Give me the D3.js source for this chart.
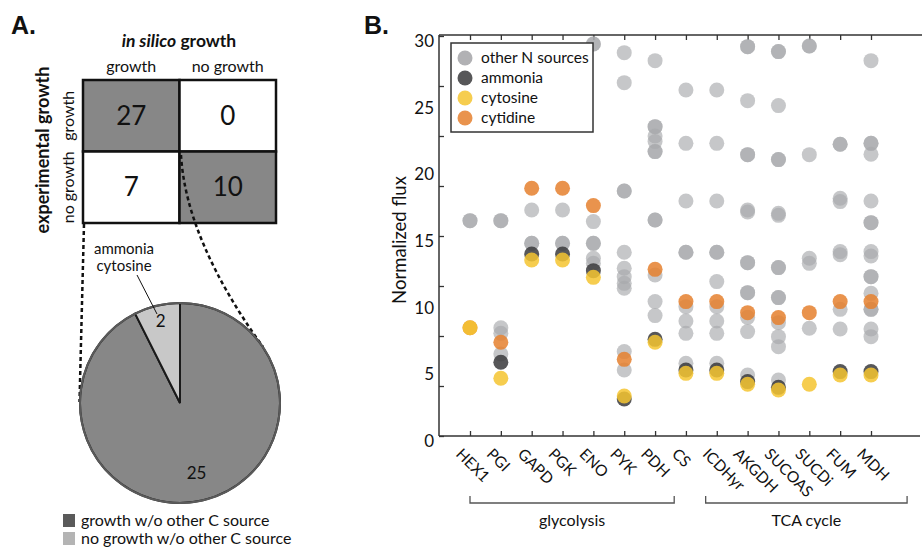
<!DOCTYPE html>
<html>
<head>
<meta charset="utf-8">
<script src="https://cdn.jsdelivr.net/npm/d3@7"></script>
<style>
body { margin: 0; background: #fff; }
text { font-family: Lato, "Open Sans", sans-serif; fill: #111; }
</style>
</head>
<body>
<div id="chart"></div>
<script>
// ---- panel A data
var matrixCols = ["growth", "no growth"];
var matrixRows = ["growth", "no growth"];
var matrixValues = [[27, 0], [7, 10]];
var pieLabels = ["growth w/o other C source", "no growth w/o other C source"];
var pieValues = [25, 2];
var calloutLabels = ["ammonia", "cytosine"];

// ---- panel B data
var reactions = ["HEX1", "PGI", "GAPD", "PGK", "ENO", "PYK", "PDH",
                 "CS", "ICDHyr", "AKGDH", "SUCOAS", "SUCDi", "FUM", "MDH"];
var otherN = [
  [16.15, 16.15],
  [16.15, 16.15, 8.12, 7.7, 6.15],
  [16.95, 14.45, 14.45],
  [16.95, 14.45, 14.45],
  [29.4, 29.4, 16.08, 14.45, 14.45, 13.33, 12.95],
  [28.75, 26.5, 18.38, 18.38, 13.78, 12.58, 11.95, 11.45, 11.08, 6.33, 4.95],
  [28.15, 23.2, 23.2, 22.5, 22.08, 21.33, 21.33, 16.2, 16.2, 12.08, 10.08, 9.03],
  [25.95, 21.95, 17.63, 13.78, 13.78, 9.7, 8.63, 7.7, 5.45],
  [25.95, 21.95, 17.63, 13.78, 13.78, 11.58, 9.7, 8.63, 7.7, 5.45],
  [29.2, 29.2, 25.15, 21.1, 21.1, 16.95, 16.8, 13.0, 13.0, 10.75, 10.75, 8.9, 7.83, 4.58],
  [28.83, 28.83, 24.78, 20.73, 20.73, 16.7, 16.55, 12.63, 12.63, 10.38, 10.38, 8.5, 7.45, 6.7, 4.2],
  [29.25, 29.25, 21.1, 13.33, 12.95, 8.08],
  [21.88, 21.88, 17.83, 17.58, 13.83, 13.6, 9.5, 8.03],
  [28.15, 21.95, 21.95, 21.13, 17.63, 16.0, 16.0, 13.83, 13.5, 11.95, 11.95, 10.7, 9.5, 9.5, 8.03, 7.45]
];
var ammonia  = [null, 5.53, 13.65, 13.65, 12.4, 2.78, 7.25, 4.95, 4.95, 4.08, 3.65, null, 4.83, 4.83];
var cytosine = [8.12, 4.33, 13.2, 13.2, 11.9, 3.0, 7.03, 4.7, 4.7, 3.88, 3.45, 3.88, 4.58, 4.58];
var cytidine = [8.12, 7.03, 18.58, 18.58, 17.28, 5.75, 12.5, 10.08, 10.08, 9.25, 8.88, 9.25, 10.08, 10.08];
var seriesNames = ["other N sources", "ammonia", "cytosine", "cytidine"];
var yTickLabels = [0, 5, 10, 15, 20, 25, 30];
var groupNames = ["glycolysis", "TCA cycle"];

var svg = d3.select("#chart").append("svg")
  .attr("width", 922).attr("height", 547);

// ================= panel A =================
svg.append("text").attr("x", 11).attr("y", 34)
  .style("font-family", "'Liberation Sans', Arial, sans-serif")
  .style("font-weight", "bold").style("font-size", "25px").text("A.");

var title = svg.append("text").attr("x", 179).attr("y", 47)
  .attr("text-anchor", "middle").style("font-weight", "bold").style("font-size", "17.5px");
title.append("tspan").style("font-style", "italic").text("in silico");
title.append("tspan").text(" growth");

var xm = d3.scaleBand().domain(matrixCols).range([83, 276]);
var ym = d3.scaleBand().domain(matrixRows).range([80, 223]);

svg.selectAll(".colhead").data(matrixCols).enter().append("text")
  .attr("x", function(d) { return xm(d) + xm.bandwidth() / 2; })
  .attr("y", 72).attr("text-anchor", "middle").style("font-size", "16px")
  .text(function(d) { return d; });

svg.selectAll(".rowhead").data(matrixRows).enter().append("text")
  .attr("transform", function(d) {
    return "translate(74," + (ym(d) + ym.bandwidth() / 2) + ") rotate(-90)";
  })
  .attr("text-anchor", "middle").style("font-size", "16px")
  .text(function(d) { return d; });

svg.append("text").attr("transform", "translate(49,150) rotate(-90)")
  .attr("text-anchor", "middle").style("font-weight", "bold").style("font-size", "18px")
  .text("experimental growth");

var cells = [];
matrixRows.forEach(function(r, i) {
  matrixCols.forEach(function(c, j) {
    cells.push({row: r, col: c, value: matrixValues[i][j], diag: i === j});
  });
});

svg.selectAll(".cell").data(cells).enter().append("rect")
  .attr("x", function(d) { return xm(d.col); })
  .attr("y", function(d) { return ym(d.row); })
  .attr("width", xm.bandwidth()).attr("height", ym.bandwidth())
  .attr("fill", function(d) { return d.diag ? "#878787" : "#fff"; })
  .attr("stroke", "#111").attr("stroke-width", 2.5);

svg.selectAll(".cellval").data(cells).enter().append("text")
  .attr("x", function(d) { return xm(d.col) + xm.bandwidth() / 2; })
  .attr("y", function(d) { return ym(d.row) + ym.bandwidth() / 2; })
  .attr("dy", "0.35em").attr("text-anchor", "middle").style("font-size", "26px")
  .text(function(d) { return d.value; });

// dashed zoom lines
svg.append("path").attr("d", "M84,224 L79.5,402")
  .attr("fill", "none").attr("stroke", "#111").attr("stroke-width", 2.5)
  .attr("stroke-dasharray", "4,3");
svg.append("path").attr("d", "M181,155 Q186,240 263,347")
  .attr("fill", "none").attr("stroke", "#111").attr("stroke-width", 2.5)
  .attr("stroke-dasharray", "4,3");

// pie
var pieCx = 180, pieCy = 403, pieR = 100;
var pie = d3.pie().sort(null);
var arc = d3.arc().innerRadius(0).outerRadius(pieR);
var pieColors = ["#878787", "#c8c8c8"];
var labelR = [72, 84];
var pieG = svg.append("g").attr("transform", "translate(" + pieCx + "," + pieCy + ")");
var slices = pie(pieValues);
pieG.selectAll("path").data(slices).enter().append("path")
  .attr("d", arc)
  .attr("fill", function(d, i) { return pieColors[i]; })
  .attr("stroke", "#1a1a1a").attr("stroke-width", 2).attr("stroke-linejoin", "miter");
pieG.append("circle").attr("r", pieR).attr("fill", "none")
  .attr("stroke", "#5a5a5a").attr("stroke-width", 2);
pieG.selectAll(".pl").data(slices).enter().append("text")
  .attr("transform", function(d, i) {
    var c = d3.arc().innerRadius(labelR[i]).outerRadius(labelR[i]).centroid(d);
    return "translate(" + c + ")";
  })
  .attr("dy", "0.35em").attr("text-anchor", "middle").style("font-size", "17px")
  .text(function(d) { return d.data; });

// callout
svg.selectAll(".callout").data(calloutLabels).enter().append("text")
  .attr("x", 124).attr("y", function(d, i) { return 254 + i * 17; })
  .attr("text-anchor", "middle").style("font-size", "15px")
  .text(function(d) { return d; });
svg.append("line").attr("x1", 137).attr("y1", 275).attr("x2", 157).attr("y2", 314)
  .attr("stroke", "#111").attr("stroke-width", 1);

// pie legend
var legendColorsA = ["#5a5a5a", "#b4b4b4"];
var legA = svg.selectAll(".legA").data(pieLabels).enter().append("g")
  .attr("transform", function(d, i) { return "translate(63," + (514 + i * 18) + ")"; });
legA.append("rect").attr("width", 12).attr("height", 13)
  .attr("fill", function(d, i) { return legendColorsA[i]; });
legA.append("text").attr("x", 18).attr("y", 11.5).style("font-size", "16px")
  .text(function(d) { return d; });

// ================= panel B =================
svg.append("text").attr("x", 364).attr("y", 34)
  .style("font-family", "'Liberation Sans', Arial, sans-serif")
  .style("font-weight", "bold").style("font-size", "25px").text("B.");

var x = d3.scalePoint().domain(reactions).range([470, 871]);
var y = d3.scaleLinear().domain([0, 30]).range([436, 36]);
var axisColor = "#333";

// frame
svg.append("line").attr("x1", 439).attr("x2", 922).attr("y1", y(30) - 1).attr("y2", y(30) - 1)
  .attr("stroke", axisColor).attr("stroke-width", 1.5);
svg.append("line").attr("x1", 439).attr("x2", 920).attr("y1", y(0)).attr("y2", y(0))
  .attr("stroke", axisColor).attr("stroke-width", 1.5);
svg.append("line").attr("x1", 439).attr("x2", 439).attr("y1", y(30) - 1).attr("y2", y(0))
  .attr("stroke", axisColor).attr("stroke-width", 1.5);

// inward ticks
var gBottom = svg.append("g").attr("transform", "translate(0," + y(0) + ")")
  .call(d3.axisBottom(x).tickSize(-5).tickFormat(""));
var gTop = svg.append("g").attr("transform", "translate(0," + (y(30) - 1) + ")")
  .call(d3.axisTop(x).tickSize(-5).tickFormat(""));
var gLeft = svg.append("g").attr("transform", "translate(439,0)")
  .call(d3.axisLeft(y).tickValues(d3.range(0, 30.01, 3.75)).tickSize(-5).tickFormat(""));
[gBottom, gTop, gLeft].forEach(function(g) {
  g.select(".domain").remove();
  g.selectAll(".tick line").attr("stroke", axisColor).attr("stroke-width", 1.3);
});

// y labels
svg.selectAll(".ylab").data(yTickLabels).enter().append("text")
  .attr("x", 434).attr("y", function(d) { return y(d) + 5; })
  .attr("dy", "0.35em").attr("text-anchor", "end").style("font-size", "17px")
  .text(function(d) { return d; });

svg.append("text").attr("transform", "translate(406,240) rotate(-90)")
  .attr("text-anchor", "middle").style("font-size", "18.5px").text("Normalized flux");

// x labels
svg.selectAll(".xlab").data(reactions).enter().append("text")
  .attr("transform", function(d) { return "translate(" + (x(d) - 15) + ",455) rotate(45)"; })
  .style("font-size", "15.5px").text(function(d) { return d; });

// brackets
var step = x.step();
var brackets = [
  {name: groupNames[0], x0: x("HEX1"), x1: x("PDH") + step * 0.62},
  {name: groupNames[1], x0: x("ICDHyr") - step * 0.36, x1: x("MDH") + step * 1.17}
];
svg.selectAll(".bracket").data(brackets).enter().append("path")
  .attr("d", function(d) {
    return "M" + d.x0 + ",496 V503 H" + d.x1 + " V496";
  })
  .attr("fill", "none").attr("stroke", "#555").attr("stroke-width", 1.3);
svg.selectAll(".blab").data(brackets).enter().append("text")
  .attr("x", function(d) { return (d.x0 + d.x1) / 2; })
  .attr("y", 526).attr("text-anchor", "middle").style("font-size", "16px")
  .text(function(d) { return d.name; });

// dots
var colors = {"other N sources": "#a8a9ac", "ammonia": "#3a3a3c",
              "cytosine": "#f5c430", "cytidine": "#e5802e"};
var opac = {"other N sources": 0.65, "ammonia": 0.85, "cytosine": 0.85, "cytidine": 0.85};
var points = [];
reactions.forEach(function(r, i) {
  otherN[i].forEach(function(v) { points.push({r: r, v: v, s: "other N sources"}); });
});
reactions.forEach(function(r, i) {
  if (ammonia[i] != null) points.push({r: r, v: ammonia[i], s: "ammonia"});
});
reactions.forEach(function(r, i) {
  if (cytidine[i] != null) points.push({r: r, v: cytidine[i], s: "cytidine"});
});
reactions.forEach(function(r, i) {
  if (cytosine[i] != null) points.push({r: r, v: cytosine[i], s: "cytosine"});
});

svg.append("g").selectAll("circle").data(points).enter().append("circle")
  .attr("cx", function(d) { return x(d.r); })
  .attr("cy", function(d) { return y(d.v); })
  .attr("r", 7.5)
  .attr("fill", function(d) { return colors[d.s]; })
  .attr("fill-opacity", function(d) { return opac[d.s]; });

// legend B
var legB = svg.append("g").attr("transform", "translate(451,43)");
legB.append("rect").attr("width", 142).attr("height", 89)
  .attr("fill", "#fff").attr("stroke", "#333").attr("stroke-width", 1.5);
var legItems = legB.selectAll(".li").data(seriesNames).enter().append("g")
  .attr("transform", function(d, i) { return "translate(14," + (15 + i * 20) + ")"; });
legItems.append("circle").attr("r", 7.5)
  .attr("fill", function(d) { return colors[d]; })
  .attr("fill-opacity", function(d) { return d === "other N sources" ? 0.9 : opac[d]; });
legItems.append("text").attr("x", 16).attr("dy", "0.35em").style("font-size", "15.5px")
  .text(function(d) { return d; });
</script>
</body>
</html>
